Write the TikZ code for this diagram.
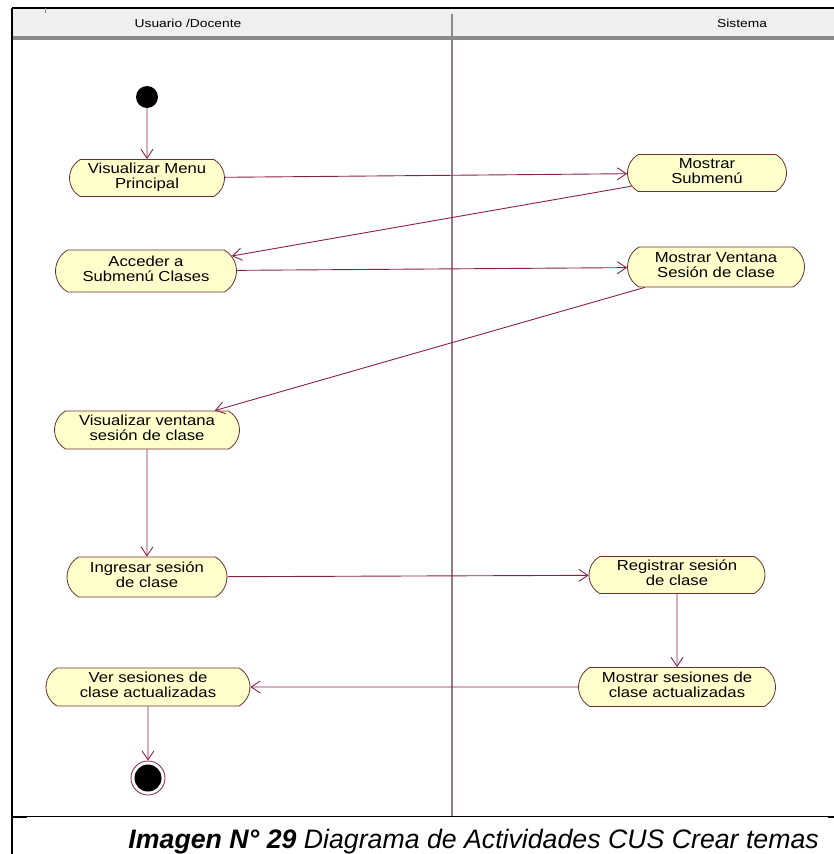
\documentclass[tikz,border=0pt]{standalone}
\usepackage{fontspec}
\setmainfont{Liberation Sans}
\usetikzlibrary{shapes.misc,arrows.meta}
\definecolor{actfill}{HTML}{FFFFCC}
\definecolor{actdraw}{HTML}{6E2E2E}
\definecolor{flowc}{HTML}{8A1E4A}
\definecolor{lanec}{HTML}{9A7A86}
\definecolor{headfill}{HTML}{EFEFEF}
\definecolor{headline}{HTML}{8A8A8A}
\newcommand\acttext[2]{\scalebox{1.15}[1]{\fontsize{14.5}{15}\selectfont\begin{tabular}{@{}c@{}}#1\\#2\end{tabular}}}
\newcommand\headtext[1]{\scalebox{1.2}[1]{\fontsize{11.5}{12}\selectfont #1}}
\begin{document}
\begin{tikzpicture}[x=1pt,y=-1pt,
  act/.style={rounded rectangle, rounded rectangle arc length=120, draw=actdraw, fill=actfill, line width=0.8pt, inner sep=0pt},
  flow/.style={draw=flowc, line width=0.9pt, -{Straight Barb[length=9pt,width=12pt,line width=0.9pt]}},
  startnode/.style={circle, fill=black, minimum size=22pt, inner sep=0pt},
  endnode/.style={circle, draw=flowc, line width=0.8pt, fill=white, minimum size=34pt, inner sep=0pt}]
\useasboundingbox (0,0) rectangle (834,854);
% frame and header
\fill[headfill] (12,8) rectangle (834,36);
\draw[headline, line width=3.5pt] (12,38) -- (834,38);
\draw[black, line width=1.5pt] (12,8) -- (834,8);
\draw[black, line width=1.5pt] (12,8) -- (12,854);
\draw[headline, line width=0.8pt] (45,8) -- (45,13);
\draw[headline, line width=1.2pt] (452,14) -- (452,40);
\draw[lanec, line width=1.2pt] (452,40) -- (452,816);
\draw[black, line width=1pt] (12,816) -- (828,816);
\draw[black, line width=2.5pt] (12,817) -- (27,817);
\draw[black, line width=2pt] (828,817) -- (834,817);
\node (h1) at (188,23) {\headtext{Usuario /Docente}};
\node (h2) at (742,23) {\headtext{Sistema}};
% activities
\node[startnode] (s) at (147,97) {};
\node[act, minimum width=155pt, minimum height=37pt] (n2) at (147,178) {\acttext{Visualizar Menu}{Principal}};
\node[act, minimum width=159pt, minimum height=37pt] (n3) at (707,173) {\acttext{Mostrar}{Submenú}};
\node[act, minimum width=181pt, minimum height=42pt] (n4) at (146,271) {\acttext{Acceder a}{Submenú Clases}};
\node[act, minimum width=177pt, minimum height=40pt] (n5) at (716,267) {\acttext{Mostrar Ventana}{Sesión de clase}};
\node[act, minimum width=185pt, minimum height=38pt] (n6) at (147,430) {\acttext{Visualizar ventana}{sesión de clase}};
\node[act, minimum width=160pt, minimum height=40pt] (n7) at (147,577) {\acttext{Ingresar sesión}{de clase}};
\node[act, minimum width=176pt, minimum height=37pt] (n8) at (677,575) {\acttext{Registrar sesión}{de clase}};
\node[act, minimum width=197pt, minimum height=39pt] (n9) at (677,687) {\acttext{Mostrar sesiones de}{clase actualizadas}};
\node[act, minimum width=204pt, minimum height=38pt] (n10) at (148,687) {\acttext{Ver sesiones de}{clase actualizadas}};
\node[endnode] (e) at (148,778) {};
\fill[black] (e.center) circle (13.5);
% flows
\draw[flow] (s) -- (n2);
\draw[flow] (n2) -- (n3);
\draw[flow] (n3) -- (n4);
\draw[flow] (n4) -- (n5);
\draw[flow] (n5) -- (n6);
\draw[flow] (n6) -- (n7);
\draw[flow] (n7) -- (n8);
\draw[flow] (n8) -- (n9);
\draw[flow] (n9) -- (n10);
\draw[flow] (n10) -- (e);
% caption
\node[anchor=base east, inner sep=0pt] (cap) at (819,848) {\fontsize{26.7}{30}\selectfont\bfseries\itshape Imagen N° 29 \mdseries Diagrama de Actividades CUS Crear temas};
\end{tikzpicture}
\end{document}
